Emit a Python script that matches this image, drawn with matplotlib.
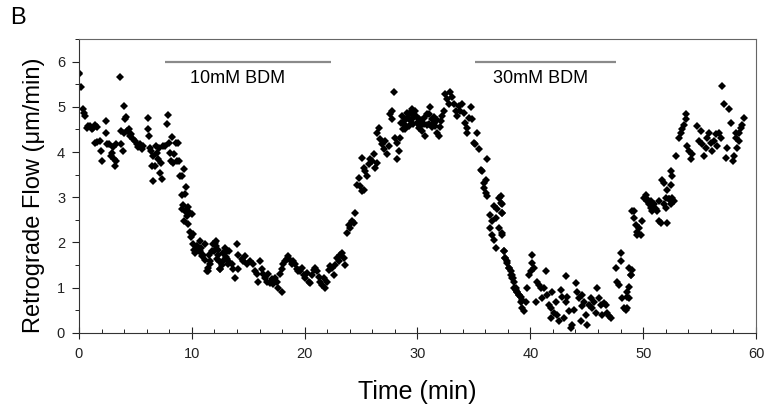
import matplotlib.pyplot as plt
import numpy as np
from matplotlib.ticker import MultipleLocator

plt.rcParams['font.family'] = ['Liberation Sans', 'DejaVu Sans']

t_base = [0.0, 0.0, 0.15, 0.35, 0.45, 0.55, 0.7, 0.8, 1.0, 1.15, 1.25, 1.4, 1.4, 1.6, 1.6, 1.85,
          2.05, 1.95, 2.4, 2.4, 2.5, 2.65, 2.85, 2.95, 3.0, 3.1, 3.2, 3.3, 3.3, 3.65, 3.7, 3.75,
          3.9, 4.0, 4.1, 4.2, 4.0, 4.25, 4.45, 4.55, 4.6, 4.8, 5.0, 5.15, 5.25, 5.4, 5.6, 5.7,
          6.1, 6.1, 6.2, 6.3, 6.4, 6.5, 6.55, 6.6, 6.75, 6.85, 6.9, 7.0, 7.1, 7.2, 7.25, 7.35,
          7.45, 7.65, 7.8, 7.9, 8.0, 8.1, 8.15, 8.25, 8.35, 8.45, 8.6, 8.7, 8.8, 8.85, 8.95,
          9.15, 9.3, 9.4, 9.15, 9.5]
v_base = [5.76, 5.72, 5.44, 4.95, 4.87, 4.8, 4.53, 4.58, 4.58, 4.51, 4.53, 4.2, 4.6, 4.55, 4.22, 4.24,
          3.8, 4.02, 4.69, 4.42, 4.18, 4.18, 3.91, 3.98, 4.11, 3.84, 3.69, 4.18, 3.8, 5.67, 4.18, 4.47,
          4.02, 5.02, 4.73, 4.78, 4.42, 4.47, 4.51, 4.36, 4.4, 4.29, 4.24, 4.18, 4.11, 4.18, 4.07, 4.13,
          4.76, 4.51, 4.36, 4.09, 4.02, 3.69, 3.36, 3.91, 3.69, 4.13, 3.98, 3.84, 4.09, 3.53, 3.76, 3.4,
          4.13, 4.13, 4.62, 4.82, 4.2, 3.98, 3.8, 4.33, 3.76, 3.96, 4.2, 3.8, 4.2, 3.8, 3.47,
          3.47, 3.62, 3.07, 3.04, 3.22]

t_10mm = [9.2, 9.15, 9.4, 9.65, 9.75, 9.55, 9.3, 9.65, 9.85, 9.95, 10.1, 10.2, 10.3, 10.45, 10.65,
          10.75, 10.85, 11.0, 11.2, 11.35, 11.45, 11.55, 11.6, 11.9, 12.0, 12.1, 12.15, 12.35, 12.45,
          12.5, 12.7, 12.8, 12.95, 13.05, 13.2, 13.3,
          9.99, 10.12, 10.44, 10.74, 10.89, 11.18, 11.45, 11.62, 11.77, 12.06, 12.22, 12.33, 12.51,
          12.78, 12.95, 13.11, 13.22, 13.55, 13.66, 13.84, 13.99, 14.11, 14.11, 14.44, 14.55, 14.73,
          14.88, 15.17, 15.44, 15.62, 15.77, 15.88, 16.06, 16.21, 16.33, 16.5, 16.65, 16.77, 16.95,
          17.1, 17.21, 17.39, 17.54, 17.66, 17.83, 17.99, 17.99, 18.1, 18.28, 18.43, 18.54, 18.72,
          18.87, 18.99, 19.17, 19.32, 19.43,
          19.47, 19.61, 19.76, 19.91, 20.06, 20.2, 20.35, 20.5, 20.65, 20.8, 20.94, 21.09, 21.24,
          21.39, 21.54, 21.68, 21.83, 21.98, 22.13, 22.28, 22.42, 22.57, 22.72, 22.87, 23.02, 23.16,
          23.31, 23.46, 23.61]
v_10mm = [2.82, 2.73, 2.69, 2.78, 2.67, 2.58, 2.47, 2.4, 2.24, 2.11, 1.96, 1.84, 1.76, 1.91, 1.8,
          2.02, 1.87, 1.73, 1.62, 1.36, 1.44, 1.73, 1.53, 1.96, 1.8, 2.02, 1.91, 1.71, 1.58,
          1.4, 1.49, 1.76, 1.87, 1.67, 1.58, 1.8,
          2.62, 2.18, 1.91, 1.80, 1.69, 1.96, 1.36, 1.58, 1.80, 1.98, 1.64, 1.84, 1.42,
          1.58, 1.76, 1.64, 1.51, 1.53, 1.40, 1.20, 1.96, 1.73, 1.42, 1.64, 1.58, 1.69,
          1.51, 1.58, 1.51, 1.36, 1.29, 1.13, 1.58, 1.42, 1.29, 1.20, 1.13, 1.29, 1.09,
          1.18, 1.07, 1.20, 1.13, 0.98, 1.29, 0.91, 1.40, 1.51, 1.58, 1.64, 1.69, 1.62,
          1.53, 1.58, 1.51, 1.40, 1.36,
          1.39, 1.36, 1.43, 1.28, 1.21, 1.32, 1.13, 1.10, 1.28, 1.39, 1.43, 1.36, 1.24,
          1.13, 1.06, 1.21, 0.98, 1.13, 1.39, 1.47, 1.43, 1.28, 1.50, 1.65, 1.58, 1.73,
          1.76, 1.65, 1.50]

t_wash1 = [23.75, 23.9, 24.05, 24.2, 24.35, 24.49, 24.64, 24.79, 24.94, 25.09, 25.23, 25.09, 25.23,
           25.38, 25.53, 25.68, 25.83, 25.97, 26.12, 26.27, 26.42, 26.42, 26.57, 26.71, 26.86, 27.01,
           27.16, 27.31, 27.45, 27.6, 27.75, 27.75, 27.9, 28.04, 28.19, 28.19, 28.34, 28.49, 28.64,
           28.79, 28.93, 28.93, 29.08, 29.23, 29.23, 28.5, 28.7,
           29.08, 29.37, 29.52, 29.67, 29.82, 29.97, 30.11, 30.11, 30.26, 30.41, 30.56, 30.71, 30.85,
           31.0, 31.15, 31.3, 31.44, 31.59, 31.74, 31.89, 32.04, 32.18, 32.33, 32.48, 32.63, 32.78,
           32.92, 33.07, 33.22, 33.37, 33.51, 33.66, 33.81, 33.96, 34.11, 34.25, 34.4, 34.4, 34.55,
           34.7, 34.85, 29.3, 29.6, 29.9, 30.3, 30.6, 31.0, 31.3, 31.7, 32.0, 29.5, 30.8, 31.5]
v_wash1 = [2.21, 2.39, 2.32, 2.47, 2.43, 2.65, 3.28, 3.43, 3.24, 3.13, 3.17, 3.87, 3.65,
           3.58, 3.47, 3.73, 3.84, 3.80, 3.95, 3.65, 3.76, 4.43, 4.54, 4.28, 4.17, 4.06,
           4.24, 3.95, 4.13, 4.84, 4.91, 4.73, 5.32, 4.32, 4.21, 3.84, 4.02, 4.32, 4.80,
           4.69, 4.61, 4.50, 4.87, 4.84, 4.58, 4.65, 4.5,
           4.76, 4.87, 4.73, 4.80, 4.91, 4.65, 4.73, 4.54, 4.58, 4.47, 4.76, 4.36, 4.61,
           4.84, 4.99, 4.73, 4.65, 4.58, 4.43, 4.36, 4.69, 4.80, 4.91, 5.28, 5.17, 5.06,
           5.32, 5.21, 5.06, 4.91, 4.80, 5.02, 4.91, 5.06, 4.87, 4.65, 4.54, 4.43, 4.76,
           4.99, 4.73, 4.7, 4.62, 4.8, 4.7, 4.62, 4.62, 4.55, 4.7, 4.55, 4.95, 4.85, 4.78]

t_30mm = [34.99, 35.14, 35.29, 35.44, 35.59, 35.73, 35.88, 36.03, 36.18, 35.88, 36.03, 36.18, 36.47,
          36.62, 36.77, 36.92, 37.06, 37.21, 37.36, 37.51, 36.47, 36.62, 36.77, 36.92, 37.21, 37.51,
          37.66, 37.8, 37.95, 38.1, 38.25, 38.4, 38.54, 38.69, 38.84, 38.99, 39.13,
          37.36, 37.51, 37.51, 37.51, 37.66, 37.8, 37.95, 38.1, 38.25, 38.4, 38.48, 38.54, 38.69,
          38.84, 38.99, 39.13, 39.28, 39.28, 39.43, 39.58, 39.73, 39.87, 40.02, 40.17, 40.17, 40.32,
          40.47, 40.61, 40.76, 40.91, 41.06, 41.21, 41.35, 41.5, 41.65, 41.8, 41.94, 41.8, 42.09,
          42.24, 42.39, 42.54, 42.68, 42.83, 42.98, 43.13, 43.13, 43.28, 43.42, 43.57, 43.72, 43.87,
          44.02, 44.16, 44.31, 44.46, 44.61, 44.61, 44.76, 44.9, 45.05, 45.2, 45.35, 45.5, 45.64,
          45.79, 45.94, 46.09, 46.23, 46.38, 46.53, 46.68, 46.83, 46.97, 47.12, 47.56, 47.71, 47.86,
          48.01, 48.01, 48.16, 48.3, 48.45, 48.6, 48.75, 48.9, 48.6, 48.75, 48.6, 48.75, 48.89]
v_30mm = [4.21, 4.17, 4.43, 4.06, 3.61, 3.58, 3.32, 3.39, 3.84, 3.21, 3.10, 3.02, 2.61,
          2.47, 2.80, 2.54, 2.73, 2.99, 2.87, 2.65, 2.32, 2.17, 2.06, 1.87, 2.32, 2.21,
          1.80, 1.65, 1.58, 1.43, 1.28, 1.21, 1.13, 0.98, 0.91, 0.84, 0.69,
          3.02, 2.84, 2.65, 2.17, 1.80, 1.65, 1.54, 1.43, 1.36, 1.28, 1.21, 0.99, 0.95,
          0.91, 0.84, 0.80, 0.73, 0.54, 0.47, 0.69, 0.99, 1.28, 1.36, 1.54, 1.73, 1.43,
          0.69, 1.13, 1.06, 0.99, 0.76, 0.99, 1.37, 0.84, 0.62, 0.54, 0.91, 0.32, 0.43,
          0.69, 0.39, 0.25, 0.95, 0.80, 0.32, 1.25, 0.69, 0.80, 0.47, 0.10, 0.17, 0.50,
          1.10, 0.91, 0.76, 0.25, 0.84, 0.58, 0.69, 0.39, 0.17, 0.62, 0.76, 0.54, 0.69,
          0.43, 0.99, 0.76, 0.62, 0.39, 0.65, 0.62, 0.43, 0.36, 0.32, 1.43, 1.13, 1.06,
          1.76, 1.58, 0.76, 0.54, 0.50, 0.80, 1.02, 1.28, 0.91, 0.76, 0.54, 1.43, 1.28]

t_wash2 = [49.04, 49.19, 49.34, 49.49, 49.63, 49.78, 49.93, 50.08, 50.22, 50.37, 50.52, 50.67, 50.82,
           50.96, 51.11, 51.41, 51.41, 51.7, 51.85, 52.0, 52.0, 52.15, 52.3, 52.44, 52.59, 52.74,
           52.89, 53.18, 53.33, 53.48, 53.63, 53.77, 53.77, 53.92, 54.07, 54.22, 54.37, 54.81, 54.96,
           55.11, 55.25, 55.4, 55.55, 55.7, 55.85, 55.99, 56.14, 56.29, 56.44, 56.58, 56.73, 56.88,
           57.03, 57.18, 57.32, 57.47, 57.62, 57.77, 57.92, 58.06, 58.21, 58.36, 58.51, 58.66, 58.8,
           58.95, 58.51, 58.21, 49.04, 49.19, 49.49, 50.37, 50.67, 50.97, 51.26, 51.56, 51.86, 52.3,
           52.45, 52.6, 52.15, 52.45]
v_wash2 = [2.69, 2.54, 2.39, 2.24, 2.32, 2.17, 2.47, 2.99, 3.06, 2.91, 2.84, 2.76, 2.69,
           2.84, 2.73, 2.91, 2.47, 3.39, 3.32, 2.99, 2.76, 2.43, 2.95, 3.58, 3.47, 2.91,
           3.91, 4.32, 4.43, 4.50, 4.61, 4.84, 4.73, 4.13, 4.02, 3.84, 3.95, 4.58, 4.24,
           4.47, 4.17, 3.91, 4.10, 4.32, 4.43, 4.21, 4.02, 4.24, 4.39, 4.13, 4.43, 4.32,
           5.47, 5.06, 3.87, 4.10, 4.95, 4.65, 3.80, 3.91, 4.32, 4.10, 4.43, 4.54, 4.61,
           4.76, 4.24, 4.43, 1.39, 2.69, 2.17, 2.95, 2.91, 2.76, 2.69, 2.43, 2.84, 2.95,
           2.84, 2.99, 3.17, 3.28]

time_min = np.concatenate([t_base, t_10mm, t_wash1, t_30mm, t_wash2])
flow = np.concatenate([v_base, v_10mm, v_wash1, v_30mm, v_wash2])

# drug application bars
bar_labels = ["10mM BDM", "30mM BDM"]
bar_start = [7.6, 35.1]
bar_end = [22.3, 47.6]
label_x = [9.85, 36.7]

fig = plt.figure(figsize=(7.64, 4.08), dpi=100)
ax = fig.add_axes([0.1034, 0.1846, 0.8861, 0.7194])

ax.plot(time_min, flow, linestyle='none', marker='D', markersize=4.2,
        color='black', markeredgewidth=0)

for lab, s, e, lx in zip(bar_labels, bar_start, bar_end, label_x):
    ax.plot([s, e], [6.0, 6.0], color='#8a8a8a', lw=1.6, solid_capstyle='butt')
    ax.text(lx, 5.62, lab, fontsize=13, va='center', ha='left')

ax.set_xlim(0, 60)
ax.set_ylim(0, 6.5)
ax.xaxis.set_major_locator(MultipleLocator(10))
ax.xaxis.set_minor_locator(MultipleLocator(2))
ax.yaxis.set_major_locator(MultipleLocator(1))
ax.yaxis.set_minor_locator(MultipleLocator(0.5))
ax.tick_params(axis='x', which='major', direction='inout', length=8, labelsize=10.5, pad=6)
ax.tick_params(axis='x', which='minor', direction='in', length=3)
ax.tick_params(axis='y', which='major', direction='out', length=5, labelsize=10.5, pad=5)
ax.tick_params(axis='y', which='minor', direction='out', length=3)
ax.tick_params(colors='#222222')

for side in ['left', 'bottom']:
    ax.spines[side].set_color('#333333')
for side in ['top', 'right']:
    ax.spines[side].set_color('#666666')

fig.text(417 / 764, 1 - 392 / 408, "Time (min)", fontsize=18, ha='center', va='center')
fig.text(34 / 764, 1 - 195 / 408, "Retrograde Flow (\u03bcm/min)", fontsize=17,
         rotation=90, ha='center', va='center')
fig.text(10 / 764, 1 - 18 / 408, "B", fontsize=17, ha='left', va='center')

fig.savefig("out.png", dpi=100)
